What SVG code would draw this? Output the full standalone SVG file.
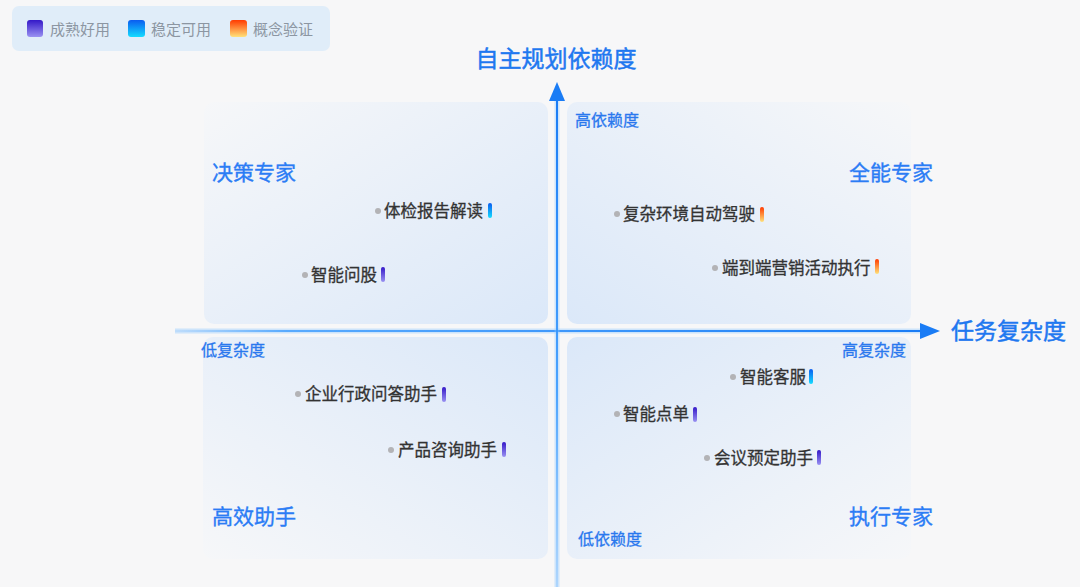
<svg xmlns="http://www.w3.org/2000/svg" width="1080" height="587" viewBox="0 0 1080 587">
<defs>
<linearGradient id="gTL" x1="0" y1="0" x2="1" y2="1"><stop offset="0" stop-color="#f6f7f9"/><stop offset="1" stop-color="#dbe8f9"/></linearGradient>
<linearGradient id="gTR" x1="1" y1="0" x2="0" y2="1"><stop offset="0" stop-color="#f6f7f9"/><stop offset="1" stop-color="#dbe8f9"/></linearGradient>
<linearGradient id="gBL" x1="0" y1="1" x2="1" y2="0"><stop offset="0" stop-color="#f6f7f9"/><stop offset="1" stop-color="#dbe8f9"/></linearGradient>
<linearGradient id="gBR" x1="1" y1="1" x2="0" y2="0"><stop offset="0" stop-color="#f6f7f9"/><stop offset="1" stop-color="#dbe8f9"/></linearGradient>
<linearGradient id="pMature" x1="0" y1="0" x2="0" y2="1"><stop offset="0" stop-color="#3418c8"/><stop offset="1" stop-color="#9a92f2"/></linearGradient>
<linearGradient id="pStable" x1="0" y1="0" x2="0" y2="1"><stop offset="0" stop-color="#0a5cf0"/><stop offset="1" stop-color="#14dcff"/></linearGradient>
<linearGradient id="pPoc" x1="0" y1="0" x2="0" y2="1"><stop offset="0" stop-color="#ff3a00"/><stop offset="1" stop-color="#ffe27a"/></linearGradient>
<linearGradient id="hAxis" x1="175" y1="0" x2="921" y2="0" gradientUnits="userSpaceOnUse"><stop offset="0" stop-color="#3c9cff" stop-opacity="0.1"/><stop offset="0.15" stop-color="#3c9cff" stop-opacity="0.8"/><stop offset="1" stop-color="#1a7cf5"/></linearGradient>
<linearGradient id="vAxis" x1="0" y1="100" x2="0" y2="587" gradientUnits="userSpaceOnUse"><stop offset="0" stop-color="#1a7cf5"/><stop offset="0.6" stop-color="#3c9cff" stop-opacity="0.9"/><stop offset="1" stop-color="#8cc6ff" stop-opacity="0.5"/></linearGradient>
<style>
text{font-family:"Noto Sans CJK SC","Noto Sans",sans-serif;}
.leg{font-size:15px;fill:#8c96a2;}
.axis{font-size:23px;fill:#1f78f0;stroke:#1f78f0;stroke-width:0.5px;}
.sub{font-size:16px;fill:#2a78ee;stroke:#2a78ee;stroke-width:0.3px;}
.title{font-size:21px;fill:#2b7cf5;stroke:#2b7cf5;stroke-width:0.35px;}
.item{font-size:16.5px;fill:#333333;stroke:#333333;stroke-width:0.3px;}
.dot{fill:#b3b3b6;}
</style>
</defs>
<rect width="1080" height="587" fill="#f7f7f8"/>
<g id="legend">
<rect x="12" y="6" width="318" height="45" rx="7" fill="#e0edf9"/>
<rect x="27" y="20" width="16" height="17" rx="3" fill="url(#pMature)"/>
<text class="leg" x="50" y="34.5">成熟好用</text>
<rect x="128" y="20" width="17" height="17" rx="3" fill="url(#pStable)"/>
<text class="leg" x="151" y="34.5">稳定可用</text>
<rect x="230" y="20" width="17" height="17" rx="3" fill="url(#pPoc)"/>
<text class="leg" x="253" y="34.5">概念验证</text>
</g>
<g id="q-top-left">
<rect x="204" y="102" width="344" height="222" rx="10" fill="url(#gTL)"/>
<text class="title" x="212" y="180">决策专家</text>
</g>
<g id="q-top-right">
<rect x="567" y="102" width="344" height="222" rx="10" fill="url(#gTR)"/>
<text class="title" x="933" y="180" text-anchor="end">全能专家</text>
</g>
<g id="q-bottom-left">
<rect x="203" y="337" width="345" height="222" rx="10" fill="url(#gBL)"/>
<text class="title" x="212" y="524">高效助手</text>
</g>
<g id="q-bottom-right">
<rect x="567" y="337" width="344" height="222" rx="10" fill="url(#gBR)"/>
<text class="title" x="933" y="524" text-anchor="end">执行专家</text>
</g>
<g id="connectors">
<line x1="175" y1="331" x2="921" y2="331" stroke="#8fc8ff" stroke-opacity="0.4" stroke-width="5"/>
<line x1="175" y1="331" x2="921" y2="331" stroke="url(#hAxis)" stroke-width="2"/>
<polygon points="920,323 940,331 920,339" fill="#1a7cf5"/>
<line x1="557" y1="100" x2="557" y2="587" stroke="#8fc8ff" stroke-opacity="0.4" stroke-width="5"/>
<line x1="557" y1="100" x2="557" y2="587" stroke="url(#vAxis)" stroke-width="2"/>
<polygon points="549,101 557,82 565,101" fill="#1a7cf5"/>
</g>
<g id="axis-y-label"><text class="axis" x="556" y="67" text-anchor="middle">自主规划依赖度</text></g>
<g id="axis-x-label"><text class="axis" x="951" y="338.5">任务复杂度</text></g>
<g id="label-high-dep"><text class="sub" x="575" y="126">高依赖度</text></g>
<g id="label-low-cx"><text class="sub" x="201" y="356">低复杂度</text></g>
<g id="label-high-cx"><text class="sub" x="906" y="356" text-anchor="end">高复杂度</text></g>
<g id="label-low-dep"><text class="sub" x="578" y="545">低依赖度</text></g>
<g id="item-tijian">
<circle class="dot" cx="378" cy="211" r="3"/>
<text class="item" x="384" y="216.5">体检报告解读</text>
<rect x="488" y="203" width="4" height="15" rx="2" fill="url(#pStable)"/>
</g>
<g id="item-wengu">
<circle class="dot" cx="305" cy="275" r="3"/>
<text class="item" x="311" y="280.5">智能问股</text>
<rect x="381" y="267" width="4" height="15" rx="2" fill="url(#pMature)"/>
</g>
<g id="item-jiashi">
<circle class="dot" cx="617" cy="214" r="3"/>
<text class="item" x="623" y="219.5">复杂环境自动驾驶</text>
<rect x="760" y="207" width="4" height="15" rx="2" fill="url(#pPoc)"/>
</g>
<g id="item-yingxiao">
<circle class="dot" cx="715" cy="268" r="3"/>
<text class="item" x="722" y="273.5">端到端营销活动执行</text>
<rect x="875" y="259" width="4" height="15" rx="2" fill="url(#pPoc)"/>
</g>
<g id="item-qiye">
<circle class="dot" cx="298" cy="394" r="3"/>
<text class="item" x="305" y="399.5">企业行政问答助手</text>
<rect x="442" y="387" width="4" height="15" rx="2" fill="url(#pMature)"/>
</g>
<g id="item-chanpin">
<circle class="dot" cx="391" cy="450" r="3"/>
<text class="item" x="398" y="455.5">产品咨询助手</text>
<rect x="502" y="442" width="4" height="15" rx="2" fill="url(#pMature)"/>
</g>
<g id="item-kefu">
<circle class="dot" cx="733" cy="377" r="3"/>
<text class="item" x="740" y="382.5">智能客服</text>
<rect x="809" y="369" width="4" height="15" rx="2" fill="url(#pStable)"/>
</g>
<g id="item-diandan">
<circle class="dot" cx="617" cy="414" r="3"/>
<text class="item" x="623" y="419.5">智能点单</text>
<rect x="693" y="407" width="4" height="15" rx="2" fill="url(#pMature)"/>
</g>
<g id="item-huiyi">
<circle class="dot" cx="707" cy="458" r="3"/>
<text class="item" x="714" y="463.5">会议预定助手</text>
<rect x="817" y="450" width="4" height="15" rx="2" fill="url(#pMature)"/>
</g>
</svg>
